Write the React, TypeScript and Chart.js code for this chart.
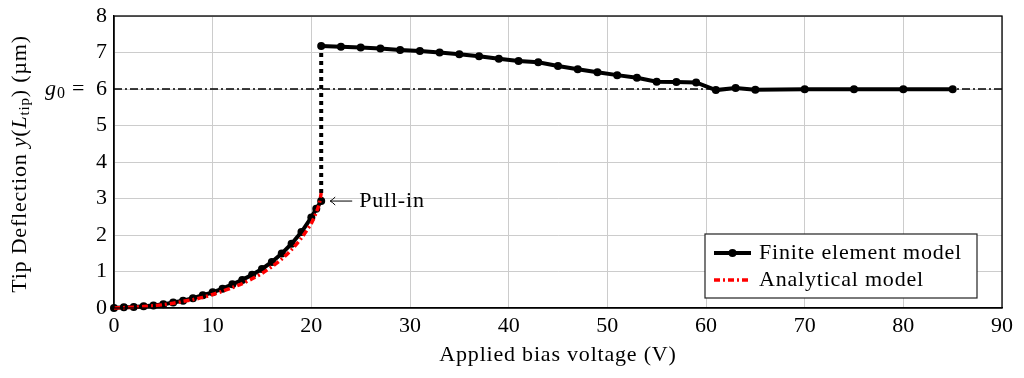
import React, { useEffect, useRef } from 'react';
import { Chart, registerables } from 'chart.js';

Chart.register(...registerables);

// Finite element model – stable branch (before pull-in)
const feLowerVoltage = [0, 1, 2, 3, 4, 5, 6, 7, 8, 9, 10, 11, 12, 13, 14, 15, 16, 17, 18, 19, 20, 20.5, 21];
const feLowerDeflection = [0, 0.02, 0.03, 0.05, 0.07, 0.1, 0.15, 0.2, 0.27, 0.35, 0.43, 0.53, 0.65, 0.77, 0.91, 1.07, 1.26, 1.49, 1.76, 2.08, 2.48, 2.72, 2.93];
// Finite element model – after pull-in
const feUpperVoltage = [21, 23, 25, 27, 29, 31, 33, 35, 37, 39, 41, 43, 45, 47, 49, 51, 53, 55, 57, 59, 61, 63, 65, 70, 75, 80, 85];
const feUpperDeflection = [7.18, 7.16, 7.14, 7.11, 7.07, 7.04, 7.0, 6.95, 6.9, 6.83, 6.77, 6.73, 6.63, 6.54, 6.46, 6.38, 6.31, 6.2, 6.19, 6.18, 5.97, 6.03, 5.98, 5.99, 5.99, 5.99, 5.99];
// Analytical model
const anVoltage = [0, 1, 2, 3, 4, 5, 6, 7, 8, 9, 10, 11, 12, 13, 14, 15, 16, 17, 18, 19, 20, 20.5, 20.8, 21];
const anDeflection = [0, 0.01, 0.02, 0.04, 0.06, 0.09, 0.13, 0.18, 0.23, 0.29, 0.37, 0.46, 0.56, 0.67, 0.8, 0.95, 1.13, 1.34, 1.6, 1.92, 2.32, 2.62, 2.85, 3.15];
// Gap line
const gapValue = 6;
const xRange = [0, 90];
const yRange = [0, 8];
const xTickStep = 10;
const yTickStep = 1;

const seriesNames = ['Finite element model', 'Analytical model'];
const xTitle = 'Applied bias voltage (V)';
const pullInLabel = 'Pull-in';

const FONT = "'Liberation Serif', 'DejaVu Serif', serif";
const FS = 22;
const SPACING = '0.8px';

export default function App() {
  const ref = useRef<HTMLCanvasElement | null>(null);

  useEffect(() => {
    if (!ref.current) return;

    const fePoints = [
      ...feLowerVoltage.map((v, i) => ({ x: v, y: feLowerDeflection[i] })),
      ...feUpperVoltage.map((v, i) => ({ x: v, y: feUpperDeflection[i] })),
    ];
    const anPoints = anVoltage.map((v, i) => ({ x: v, y: anDeflection[i] }));
    const gapPoints = xRange.map((v) => ({ x: v, y: gapValue }));

    const overlay = {
      id: 'overlay',
      afterDraw(chart: any) {
        const { ctx, chartArea: a, scales } = chart;
        const xs = scales.x;
        const ys = scales.y;
        ctx.save();
        // full frame
        ctx.strokeStyle = '#000';
        ctx.lineWidth = 1.3;
        ctx.strokeRect(a.left, a.top, a.right - a.left, a.bottom - a.top);

        // g0 = label next to tick 6
        const gy = ys.getPixelForValue(gapValue);
        ctx.fillStyle = '#000';
        ctx.textBaseline = 'middle';
        ctx.textAlign = 'left';
        let gx = 45;
        ctx.font = `italic ${FS}px ${FONT}`;
        ctx.fillText('g', gx, gy);
        gx += ctx.measureText('g').width + 1;
        ctx.font = `16px ${FONT}`;
        ctx.fillText('0', gx, gy + 5);
        ctx.font = `${FS}px ${FONT}`;
        ctx.fillText('=', 72, gy);

        (ctx as any).letterSpacing = SPACING;

        // x-axis title
        ctx.textAlign = 'center';
        ctx.font = `${FS}px ${FONT}`;
        ctx.fillText(xTitle, (a.left + a.right) / 2, 355);
        ctx.textAlign = 'left';

        // y-axis title (rich text)
        const parts: { t: string; f: string; dy: number }[] = [
          { t: 'Tip Deflection ', f: `${FS}px ${FONT}`, dy: 0 },
          { t: 'y', f: `italic ${FS}px ${FONT}`, dy: 0 },
          { t: '(', f: `${FS}px ${FONT}`, dy: 0 },
          { t: 'L', f: `italic ${FS}px ${FONT}`, dy: 0 },
          { t: 'tip', f: `15px ${FONT}`, dy: 5 },
          { t: ') (µm)', f: `${FS}px ${FONT}`, dy: 0 },
        ];
        let total = 0;
        for (const p of parts) {
          ctx.font = p.f;
          total += ctx.measureText(p.t).width;
        }
        ctx.save();
        ctx.translate(20, 164);
        ctx.rotate(-Math.PI / 2);
        let tx = -total / 2;
        for (const p of parts) {
          ctx.font = p.f;
          ctx.fillText(p.t, tx, p.dy);
          tx += ctx.measureText(p.t).width;
        }
        ctx.restore();

        // Pull-in annotation
        const px = xs.getPixelForValue(feLowerVoltage[feLowerVoltage.length - 1]);
        const py = ys.getPixelForValue(feLowerDeflection[feLowerDeflection.length - 1]);
        const ax0 = px + 9;
        const ax1 = px + 31;
        ctx.strokeStyle = '#000';
        ctx.lineWidth = 1;
        ctx.beginPath();
        ctx.moveTo(ax0, py);
        ctx.lineTo(ax1, py);
        ctx.moveTo(ax0 + 5, py - 4);
        ctx.quadraticCurveTo(ax0 + 2, py - 1, ax0, py);
        ctx.quadraticCurveTo(ax0 + 2, py + 1, ax0 + 5, py + 4);
        ctx.stroke();
        ctx.font = `${FS}px ${FONT}`;
        ctx.fillText(pullInLabel, px + 38, py);

        // Legend
        const lx = 705, ly = 234, lw = 272, lh = 64;
        ctx.fillStyle = '#fff';
        ctx.fillRect(lx, ly, lw, lh);
        ctx.strokeStyle = '#222';
        ctx.lineWidth = 1.2;
        ctx.strokeRect(lx, ly, lw, lh);
        const row1 = ly + 19;
        const row2 = ly + 46;
        // FE sample
        ctx.strokeStyle = '#000';
        ctx.lineWidth = 4;
        ctx.setLineDash([]);
        ctx.beginPath();
        ctx.moveTo(lx + 9, row1);
        ctx.lineTo(lx + 46, row1);
        ctx.stroke();
        ctx.fillStyle = '#000';
        ctx.beginPath();
        ctx.arc(lx + 27.5, row1, 4, 0, Math.PI * 2);
        ctx.fill();
        // analytic sample
        ctx.strokeStyle = '#ff0000';
        ctx.lineWidth = 3.5;
        ctx.setLineDash([6, 3, 2, 3]);
        ctx.beginPath();
        ctx.moveTo(lx + 9, row2);
        ctx.lineTo(lx + 46, row2);
        ctx.stroke();
        ctx.setLineDash([]);
        ctx.fillStyle = '#000';
        ctx.font = `${FS}px ${FONT}`;
        ctx.fillText(seriesNames[0], lx + 54, row1);
        ctx.fillText(seriesNames[1], lx + 54, row2);
        ctx.restore();
      },
    };

    const chart = new Chart(ref.current, {
      type: 'line',
      data: {
        datasets: [
          {
            label: seriesNames[1],
            data: anPoints,
            borderColor: '#ff0000',
            borderWidth: 3.5,
            borderDash: [6, 3, 2, 3],
            pointRadius: 0,
            tension: 0.3,
            clip: false as any,
          },
          {
            label: seriesNames[0],
            data: fePoints,
            borderColor: '#000',
            backgroundColor: '#000',
            borderWidth: 4,
            pointRadius: 4,
            pointBackgroundColor: '#000',
            pointBorderWidth: 0,
            clip: false as any,
            segment: {
              borderDash: (c: any) => (c.p0.parsed.x === c.p1.parsed.x ? [4, 4] : undefined),
            },
          },
          {
            label: 'gap',
            data: gapPoints,
            borderColor: '#000',
            borderWidth: 1.5,
            borderDash: [8, 3, 2, 3],
            pointRadius: 0,
          },
        ],
      },
      options: {
        animation: false,
        responsive: false,
        layout: { padding: { top: 16, right: 22, left: 0, bottom: 0 } },
        plugins: { legend: { display: false }, tooltip: { enabled: false } },
        scales: {
          x: {
            type: 'linear',
            min: xRange[0],
            max: xRange[1],
            ticks: { stepSize: xTickStep, color: '#000', font: { family: FONT, size: FS }, padding: 5, maxRotation: 0 },
            grid: { color: '#cccccc', lineWidth: 1, drawTicks: false },
            border: { display: true, color: '#000', width: 1.3 },
            title: { display: false },
            afterFit: (s: any) => { s.height = 70; s.paddingLeft = 0; s.paddingRight = 0; },
          },
          y: {
            type: 'linear',
            min: yRange[0],
            max: yRange[1],
            ticks: { stepSize: yTickStep, color: '#000', font: { family: FONT, size: FS }, padding: 7 },
            grid: { color: '#cccccc', lineWidth: 1, drawTicks: false },
            border: { display: true, color: '#000', width: 1.3 },
            afterFit: (s: any) => { s.width = 114; s.paddingTop = 0; s.paddingBottom = 0; },
          },
        },
      },
      plugins: [overlay],
    } as any);

    return () => chart.destroy();
  }, []);

  return (
    <div style={{ position: 'absolute', left: 0, top: 0, width: 1024, height: 378, background: '#fff' }}>
      <canvas ref={ref} width={1024} height={378} style={{ display: 'block' }} />
    </div>
  );
}
